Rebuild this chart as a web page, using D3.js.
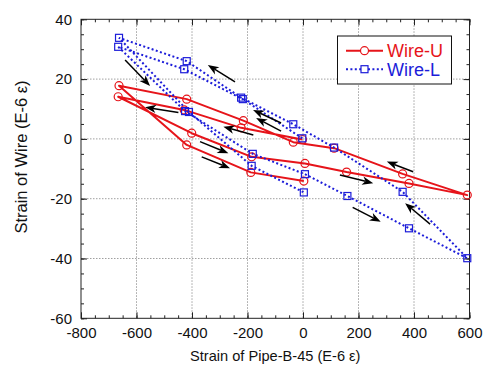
<!DOCTYPE html>
<html>
<head>
<meta charset="utf-8">
<script src="https://cdn.jsdelivr.net/npm/d3@7"></script>
<style>
  body { margin: 0; background: #fff; }
  svg { display: block; font-family: "Liberation Sans", Arial, Helvetica, sans-serif; }
</style>
</head>
<body>
<svg id="chart"></svg>
<script>
// Wire-U (red, circles), in loading order
const wireUPipe = [-2, -223, -428, -666, -401, -185, 7, 157, 382, 592, 359, 112, -35, -215, -419, -663, -419, -188, 3];
const wireUWire = [-0.2, 3.7, 9.7, 14.1, 1.9, -6, -8.2, -11.1, -14.9, -18.8, -11.7, -3.1, -1.1, 6.1, 13.3, 17.8, -2.0, -11.2, -14.1];

// Wire-L (blue, squares), in loading order
const wireLPipe = [-2.5, -217, -428, -666, -425, -181, 7, 160, 382, 592, 359, 112, -35, -223, -419, -663, -411, -185, 3];
const wireLWire = [0.2, 13.3, 23.3, 30.8, 9.3, -5, -11.8, -19.1, -29.9, -39.9, -17.7, -2.9, 4.9, 13.8, 26, 33.8, 9.0, -9, -17.9];

// direction arrows: tail (x0,y0) -> head (x1,y1), data units
const arrowX0 = [-641, -245, -449, -179, -371, -365, -79, -79, 397, 133, 179, 458];
const arrowY0 = [26.4, 19.1, 8.8, 1.3, -0.9, -6.0, 5.3, 2.6, -11, -12.1, -22.9, -28.5];
const arrowX1 = [-551, -343, -569, -287, -269, -263, -180, -169, 302, 253, 280, 368];
const arrowY1 = [17.7, 24.7, 10.6, 4.1, -4.8, -9.8, 9.7, 7.0, -7.6, -14.8, -27.7, -21.5];

const xTicks = [-800, -600, -400, -200, 0, 200, 400, 600];
const yTicks = [-60, -40, -20, 0, 20, 40];

const width = 484, height = 368;
const marginLeft = 81, marginRight = 14.5, marginTop = 19.3, marginBottom = 49.7;
const red = "#e6141a", blue = "#1c1cd9";

const svg = d3.select("#chart").attr("width", width).attr("height", height);

const x = d3.scaleLinear().domain([-800, 600]).range([marginLeft, width - marginRight]);
const y = d3.scaleLinear().domain([-60, 40]).range([height - marginBottom, marginTop]);

// grid
const grid = svg.append("g").attr("stroke", "#a0a0a0").attr("stroke-width", 1).attr("stroke-dasharray", "1.5,1.5");
grid.selectAll(".gx").data(xTicks.slice(1, -1)).join("line")
  .attr("x1", d => x(d)).attr("x2", d => x(d))
  .attr("y1", y(40)).attr("y2", y(-60));
grid.selectAll(".gy").data(yTicks.slice(1, -1)).join("line")
  .attr("x1", x(-800)).attr("x2", x(600))
  .attr("y1", d => y(d)).attr("y2", d => y(d));

// axes (ticks inward on all four sides)
const xMinor = d3.range(-800, 601, 50);
const yMinor = d3.range(-60, 41, 5);
const plain = d => String(d);
function styleAxis(g) {
  g.select(".domain").remove();
  g.selectAll(".tick line").attr("stroke", "#222");
  g.selectAll("text").attr("font-size", 15).attr("fill", "#111");
}
svg.append("g").attr("transform", `translate(0,${y(-60)})`)
  .call(d3.axisBottom(x).tickValues(xMinor).tickSize(-3).tickFormat("")).call(styleAxis);
svg.append("g").attr("transform", `translate(0,${y(-60)})`)
  .call(d3.axisBottom(x).tickValues(xTicks).tickSize(-6).tickPadding(9).tickFormat(plain)).call(styleAxis);
svg.append("g").attr("transform", `translate(0,${y(40)})`)
  .call(d3.axisTop(x).tickValues(xMinor).tickSize(-3).tickFormat("")).call(styleAxis);
svg.append("g").attr("transform", `translate(0,${y(40)})`)
  .call(d3.axisTop(x).tickValues(xTicks).tickSize(-6).tickFormat("")).call(styleAxis);
svg.append("g").attr("transform", `translate(${x(-800)},0)`)
  .call(d3.axisLeft(y).tickValues(yMinor).tickSize(-3).tickFormat("")).call(styleAxis);
svg.append("g").attr("transform", `translate(${x(-800)},0)`)
  .call(d3.axisLeft(y).tickValues(yTicks).tickSize(-6).tickPadding(9).tickFormat(plain)).call(styleAxis);
svg.append("g").attr("transform", `translate(${x(600)},0)`)
  .call(d3.axisRight(y).tickValues(yMinor).tickSize(-3).tickFormat("")).call(styleAxis);
svg.append("g").attr("transform", `translate(${x(600)},0)`)
  .call(d3.axisRight(y).tickValues(yTicks).tickSize(-6).tickFormat("")).call(styleAxis);

// frame
svg.append("rect")
  .attr("x", x(-800)).attr("y", y(40))
  .attr("width", x(600) - x(-800)).attr("height", y(-60) - y(40))
  .attr("fill", "none").attr("stroke", "#222").attr("stroke-width", 1);

// axis titles
svg.append("text")
  .attr("x", x(-100)).attr("y", 361)
  .attr("text-anchor", "middle").attr("font-size", 14.6).attr("fill", "#111")
  .text("Strain of Pipe-B-45 (E-6 ε)");
svg.append("text")
  .attr("transform", `translate(27,157) rotate(-90)`)
  .attr("text-anchor", "middle").attr("font-size", 16.5).attr("fill", "#111")
  .text("Strain of Wire (E-6 ε)");

// series
const line = d3.line().x(d => x(d[0])).y(d => y(d[1]));
const uData = wireUPipe.map((d, i) => [d, wireUWire[i]]);
const lData = wireLPipe.map((d, i) => [d, wireLWire[i]]);

svg.append("path").datum(uData).attr("d", line)
  .attr("fill", "none").attr("stroke", red).attr("stroke-width", 2).attr("stroke-linejoin", "round");
svg.selectAll(".u-pt").data(uData).join("circle")
  .attr("class", "u-pt")
  .attr("cx", d => x(d[0])).attr("cy", d => y(d[1])).attr("r", 4)
  .attr("fill", "none").attr("stroke", red).attr("stroke-width", 1.2);

svg.append("path").datum(lData).attr("d", line)
  .attr("fill", "none").attr("stroke", blue).attr("stroke-width", 2).attr("stroke-dasharray", "2,2.4");
svg.selectAll(".l-pt").data(lData).join("rect")
  .attr("class", "l-pt")
  .attr("x", d => x(d[0]) - 3.5).attr("y", d => y(d[1]) - 3.5)
  .attr("width", 7).attr("height", 7)
  .attr("fill", "none").attr("stroke", blue).attr("stroke-width", 1.2);

// arrows
const arrows = arrowX0.map((d, i) => ({x0: d, y0: arrowY0[i], x1: arrowX1[i], y1: arrowY1[i]}));
const ag = svg.append("g");
arrows.forEach(a => {
  const px0 = x(a.x0), py0 = y(a.y0), px1 = x(a.x1), py1 = y(a.y1);
  const len = Math.hypot(px1 - px0, py1 - py0);
  const ux = (px1 - px0) / len, uy = (py1 - py0) / len;
  const L = 11, W = 4.2;
  const bx = px1 - ux * L, by = py1 - uy * L;
  const nx = px1 - ux * L * 0.72, ny = py1 - uy * L * 0.72;
  ag.append("line")
    .attr("x1", px0).attr("y1", py0).attr("x2", nx).attr("y2", ny)
    .attr("stroke", "#000").attr("stroke-width", 1.5);
  ag.append("path")
    .attr("d", `M${px1},${py1}L${bx - uy * W},${by + ux * W}L${nx},${ny}L${bx + uy * W},${by - ux * W}Z`)
    .attr("fill", "#000");
});

// legend
const lg = svg.append("g");
lg.append("rect").attr("x", 337.5).attr("y", 36).attr("width", 114).attr("height", 48)
  .attr("fill", "#fff").attr("stroke", "#111").attr("stroke-width", 1);
const legendItems = [
  {name: "Wire-U", color: red, dash: null, shape: "circle"},
  {name: "Wire-L", color: blue, dash: "2,2.4", shape: "square"}
];
legendItems.forEach((d, i) => {
  const ly = 50.7 + i * 18.5;
  lg.append("line").attr("x1", 346).attr("x2", 383).attr("y1", ly).attr("y2", ly)
    .attr("stroke", d.color).attr("stroke-width", 2).attr("stroke-dasharray", d.dash);
  if (d.shape === "circle") {
    lg.append("circle").attr("cx", 364.5).attr("cy", ly).attr("r", 4)
      .attr("fill", "#fff").attr("stroke", d.color).attr("stroke-width", 1.2);
  } else {
    lg.append("rect").attr("x", 361).attr("y", ly - 3.5).attr("width", 7).attr("height", 7)
      .attr("fill", "#fff").attr("stroke", d.color).attr("stroke-width", 1.2);
  }
  lg.append("text").attr("x", 387).attr("y", ly + 6.5)
    .attr("font-size", 18).attr("fill", d.color).text(d.name);
});
</script>
</body>
</html>
